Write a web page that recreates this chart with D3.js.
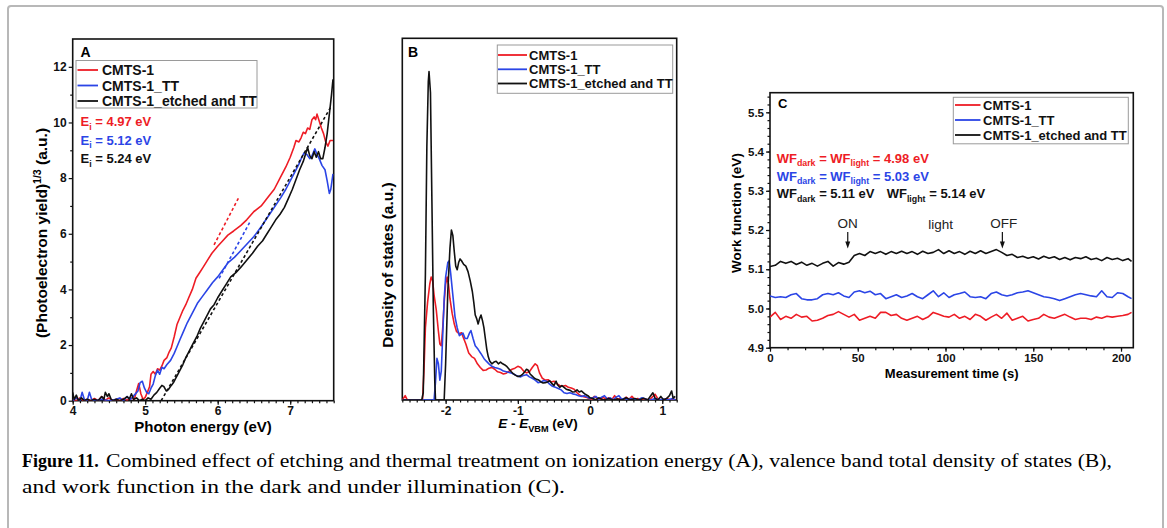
<!DOCTYPE html>
<html>
<head>
<meta charset="utf-8">
<script src="https://cdn.jsdelivr.net/npm/d3@7"></script>
<style>
  body { margin: 0; background: #fff; }
  svg text { font-family: "Liberation Sans", Arial, sans-serif; }
</style>
</head>
<body>
<svg id="fig" width="1167" height="528"></svg>
<script>
// ---------- data ----------
const seriesNames = ["CMTS-1", "CMTS-1_TT", "CMTS-1_etched and TT"];
const seriesColors = ["#ee1c25", "#2b45e6", "#111111"];

// panel A: photon energy (eV) vs (photoelectron yield)^1/3
const aRed = [[4.00,0.05],[4.05,0],[4.10,0.1],[4.15,0],[4.20,0.05],[4.25,0],[4.30,0.08],[4.35,0],[4.40,0.15],[4.45,0.02],[4.50,0.1],[4.55,0],[4.60,0.05],[4.65,0],[4.70,0.08],[4.75,0.02],[4.80,0.1],[4.85,0.05],[4.88,0.35],[4.91,0.62],[4.94,0.25],[4.97,0.05],[5.00,0.12],[5.03,0.3],[5.06,0.5],[5.08,0.95],[5.11,1.05],[5.14,0.95],[5.17,1.15],[5.20,1.1],[5.23,1.25],[5.26,1.45],[5.30,1.55],[5.33,1.75],[5.36,1.9],[5.40,2.3],[5.44,2.75],[5.48,3.0],[5.52,3.25],[5.56,3.45],[5.60,3.7],[5.65,4.0],[5.70,4.4],[5.75,4.6],[5.80,4.8],[5.86,5.05],[5.92,5.3],[6.00,5.55],[6.07,5.75],[6.14,5.95],[6.22,6.1],[6.32,6.3],[6.40,6.5],[6.50,6.8],[6.60,7.0],[6.69,7.3],[6.78,7.6],[6.87,8.05],[6.94,8.4],[7.00,8.75],[7.05,9.1],[7.08,9.35],[7.12,9.3],[7.15,9.45],[7.18,9.65],[7.21,9.6],[7.24,9.8],[7.27,9.75],[7.30,10.1],[7.33,10.2],[7.35,10.1],[7.37,10.3],[7.40,10.05],[7.43,9.8],[7.46,9.6],[7.49,9.3],[7.52,9.15],[7.55,9.35],[7.59,9.35]];
const aBlue = [[4.00,0],[4.05,0.1],[4.10,0],[4.13,0.3],[4.16,0.05],[4.20,0],[4.23,0.3],[4.26,0.05],[4.30,0],[4.40,0.05],[4.50,0],[4.60,0.05],[4.65,0.1],[4.70,0],[4.75,0.15],[4.80,0.05],[4.85,0.2],[4.90,0.35],[4.93,0.65],[4.96,0.7],[4.99,0.45],[5.02,0.3],[5.05,0.25],[5.08,0.45],[5.11,0.6],[5.14,0.9],[5.17,1.1],[5.20,0.95],[5.23,1.2],[5.26,1.15],[5.30,1.3],[5.35,1.45],[5.40,1.7],[5.44,1.95],[5.48,2.2],[5.53,2.5],[5.58,2.8],[5.65,3.15],[5.72,3.5],[5.79,3.75],[5.86,4.0],[5.93,4.25],[6.00,4.45],[6.07,4.7],[6.14,4.95],[6.23,5.15],[6.32,5.4],[6.41,5.65],[6.50,5.9],[6.60,6.25],[6.69,6.6],[6.78,6.95],[6.87,7.3],[6.94,7.6],[7.00,7.9],[7.06,8.2],[7.12,8.5],[7.16,8.75],[7.19,8.9],[7.23,8.85],[7.27,8.7],[7.30,8.8],[7.34,9.05],[7.37,8.85],[7.40,8.7],[7.44,8.45],[7.48,8.3],[7.51,7.9],[7.54,7.45],[7.56,7.6],[7.59,8.15]];
const aBlack = [[4.00,0.3],[4.02,0.05],[4.05,0.2],[4.08,0],[4.12,0.1],[4.16,0],[4.20,0.05],[4.25,0],[4.30,0.05],[4.35,0],[4.40,0.15],[4.43,0.05],[4.45,0.3],[4.48,0.15],[4.50,0.25],[4.53,0.05],[4.56,0],[4.60,0.05],[4.65,0],[4.70,0.05],[4.75,0.15],[4.78,0.05],[4.81,0.25],[4.84,0.05],[4.88,0.1],[4.92,0],[4.96,0.05],[5.00,0],[5.04,0.1],[5.08,0.05],[5.12,0.2],[5.16,0.3],[5.20,0.45],[5.23,0.55],[5.26,0.5],[5.29,0.35],[5.32,0.4],[5.36,0.55],[5.39,0.65],[5.42,0.8],[5.45,0.95],[5.48,1.1],[5.52,1.3],[5.56,1.55],[5.60,1.75],[5.64,1.95],[5.68,2.15],[5.72,2.35],[5.76,2.6],[5.80,2.8],[5.85,3.05],[5.90,3.3],[5.95,3.45],[6.00,3.7],[6.06,3.95],[6.12,4.2],[6.18,4.45],[6.25,4.6],[6.32,4.8],[6.40,5.05],[6.48,5.3],[6.55,5.55],[6.62,5.75],[6.68,6.0],[6.74,6.25],[6.80,6.5],[6.86,6.7],[6.92,6.95],[6.98,7.3],[7.03,7.6],[7.08,7.95],[7.13,8.3],[7.18,8.6],[7.21,8.85],[7.24,9.1],[7.27,8.8],[7.30,8.7],[7.33,8.95],[7.36,8.75],[7.39,8.95],[7.42,8.7],[7.45,8.7],[7.48,9.1],[7.51,9.6],[7.54,10.3],[7.57,11.0],[7.59,11.55]];
// linear fits (dashed)
const aFitRed = [[5.95,5.6],[6.29,7.3]];
const aFitBlue = [[6.02,4.4],[6.44,6.4]];
const aFitBlack = [[5.22,0],[7.57,10.6]];
const aNotes = ["4.97", "5.12", "5.24"];

// panel B: E - E_VBM (eV) vs density of states (a.u.)
const bRed = [[-2.60,0],[-2.56,0.012],[-2.53,0],[-2.45,0],[-2.40,0],[-2.35,0],[-2.32,0],[-2.30,0.08],[-2.28,0.2],[-2.25,0.27],[-2.22,0.32],[-2.20,0.34],[-2.18,0.33],[-2.16,0.29],[-2.13,0.25],[-2.10,0.19],[-2.08,0.155],[-2.06,0.15],[-2.04,0.2],[-2.02,0.27],[-2.00,0.32],[-1.98,0.34],[-1.96,0.32],[-1.94,0.28],[-1.91,0.24],[-1.88,0.21],[-1.85,0.19],[-1.81,0.183],[-1.78,0.186],[-1.75,0.17],[-1.72,0.155],[-1.68,0.13],[-1.64,0.12],[-1.60,0.115],[-1.56,0.1],[-1.52,0.09],[-1.48,0.082],[-1.44,0.083],[-1.40,0.088],[-1.36,0.09],[-1.32,0.085],[-1.28,0.078],[-1.24,0.076],[-1.20,0.072],[-1.16,0.074],[-1.12,0.08],[-1.08,0.085],[-1.04,0.088],[-1.00,0.093],[-0.96,0.09],[-0.92,0.08],[-0.88,0.075],[-0.84,0.078],[-0.80,0.09],[-0.76,0.1],[-0.73,0.095],[-0.70,0.075],[-0.66,0.06],[-0.62,0.055],[-0.58,0.056],[-0.54,0.05],[-0.50,0.052],[-0.46,0.045],[-0.42,0.04],[-0.38,0.038],[-0.34,0.04],[-0.30,0.035],[-0.26,0.033],[-0.22,0.03],[-0.18,0.02],[-0.14,0.013],[-0.10,0.01],[-0.06,0.008],[-0.02,0.005],[0.02,0.002],[0.06,0.01],[0.10,0.004],[0.14,0],[0.18,0.008],[0.22,0.002],[0.26,0.006],[0.30,0],[0.34,0.012],[0.38,0.002],[0.42,0.004],[0.46,0],[0.50,0.008],[0.54,0.002],[0.58,0.01],[0.62,0.001],[0.66,0.004],[0.70,0],[0.76,0.003],[0.82,0],[0.86,0.008],[0.90,0.016],[0.94,0.003],[1.00,0],[1.06,0.004],[1.12,0],[1.18,0.002]];
const bBlue = [[-2.60,0],[-2.40,0],[-2.20,0],[-2.16,0],[-2.14,0.05],[-2.12,0.115],[-2.10,0.1],[-2.08,0.055],[-2.06,0.08],[-2.04,0.18],[-2.02,0.28],[-2.00,0.34],[-1.97,0.38],[-1.95,0.385],[-1.93,0.35],[-1.90,0.29],[-1.87,0.23],[-1.84,0.2],[-1.81,0.178],[-1.78,0.182],[-1.76,0.185],[-1.73,0.17],[-1.70,0.17],[-1.67,0.185],[-1.65,0.192],[-1.62,0.17],[-1.59,0.15],[-1.55,0.14],[-1.51,0.128],[-1.47,0.115],[-1.44,0.108],[-1.40,0.1],[-1.36,0.093],[-1.32,0.09],[-1.28,0.088],[-1.24,0.085],[-1.20,0.08],[-1.16,0.078],[-1.12,0.076],[-1.08,0.074],[-1.04,0.07],[-1.00,0.066],[-0.96,0.064],[-0.92,0.068],[-0.88,0.07],[-0.84,0.064],[-0.80,0.06],[-0.76,0.055],[-0.72,0.048],[-0.68,0.05],[-0.64,0.054],[-0.60,0.052],[-0.56,0.044],[-0.52,0.038],[-0.48,0.035],[-0.44,0.032],[-0.40,0.028],[-0.36,0.02],[-0.32,0.018],[-0.28,0.02],[-0.24,0.017],[-0.20,0.015],[-0.16,0.012],[-0.12,0.01],[-0.08,0.012],[-0.04,0.008],[0.00,0.004],[0.04,0.006],[0.08,0.01],[0.12,0.002],[0.16,0.008],[0.20,0.012],[0.24,0.003],[0.28,0.006],[0.32,0],[0.36,0.008],[0.40,0.012],[0.44,0.002],[0.48,0.005],[0.52,0],[0.56,0.004],[0.60,0.002],[0.66,0],[0.72,0.006],[0.78,0.002],[0.84,0],[0.90,0.004],[0.96,0],[1.02,0.003],[1.08,0],[1.14,0.004],[1.18,0]];
const bBlack = [[-2.60,0],[-2.45,0],[-2.33,0],[-2.31,0.02],[-2.28,0.35],[-2.26,0.7],[-2.24,0.88],[-2.23,0.908],[-2.21,0.85],[-2.19,0.55],[-2.17,0.25],[-2.15,0.05],[-2.14,0],[-2.02,0],[-2.00,0.1],[-1.97,0.3],[-1.94,0.42],[-1.92,0.47],[-1.90,0.455],[-1.88,0.41],[-1.86,0.37],[-1.84,0.36],[-1.82,0.38],[-1.80,0.39],[-1.78,0.385],[-1.75,0.375],[-1.72,0.37],[-1.69,0.355],[-1.66,0.33],[-1.63,0.3],[-1.61,0.27],[-1.59,0.235],[-1.57,0.225],[-1.55,0.21],[-1.53,0.225],[-1.51,0.235],[-1.49,0.22],[-1.47,0.2],[-1.45,0.17],[-1.43,0.14],[-1.41,0.12],[-1.39,0.108],[-1.36,0.1],[-1.33,0.105],[-1.30,0.107],[-1.27,0.1],[-1.24,0.105],[-1.21,0.1],[-1.18,0.097],[-1.15,0.092],[-1.12,0.085],[-1.09,0.078],[-1.06,0.072],[-1.03,0.068],[-1.00,0.065],[-0.97,0.066],[-0.94,0.07],[-0.91,0.077],[-0.88,0.085],[-0.86,0.083],[-0.83,0.072],[-0.80,0.066],[-0.77,0.06],[-0.74,0.057],[-0.71,0.055],[-0.68,0.05],[-0.65,0.047],[-0.62,0.048],[-0.59,0.05],[-0.56,0.053],[-0.53,0.046],[-0.50,0.04],[-0.47,0.052],[-0.45,0.042],[-0.42,0.035],[-0.39,0.04],[-0.36,0.035],[-0.33,0.03],[-0.30,0.028],[-0.27,0.026],[-0.24,0.022],[-0.21,0.023],[-0.18,0.028],[-0.15,0.022],[-0.12,0.025],[-0.09,0.02],[-0.06,0.015],[-0.03,0.012],[0.00,0.006],[0.04,0.004],[0.08,0],[0.12,0.006],[0.16,0.002],[0.20,0],[0.26,0.004],[0.32,0],[0.38,0.003],[0.44,0],[0.50,0.006],[0.56,0],[0.62,0.004],[0.68,0],[0.74,0.005],[0.80,0],[0.84,0.012],[0.87,0.02],[0.90,0.005],[0.94,0],[0.98,0.01],[1.02,0],[1.06,0.004],[1.10,0.012],[1.13,0.025],[1.15,0.005],[1.18,0.01]];

// panel C: measurement time (s) vs work function (eV)
const cTime = [0,3,6,9,12,15,18,21,24,27,30,33,36,39,42,45,48,51,54,57,60,63,66,69,72,75,78,81,84,87,90,93,96,99,102,105,108,111,114,117,120,123,126,129,132,135,138,141,144,147,150,153,156,159,162,165,168,171,174,177,180,183,186,189,192,195,198,201,204,206];
const cRed = [4.978,4.99,4.972,4.98,4.975,4.985,4.978,4.98,4.968,4.97,4.975,4.982,4.985,4.992,4.985,4.978,4.985,4.97,4.975,4.98,4.975,4.99,4.99,4.982,4.985,4.975,4.97,4.975,4.98,4.972,4.978,4.99,4.985,4.98,4.978,4.985,4.975,4.98,4.972,4.985,4.98,4.97,4.978,4.985,4.975,4.988,4.97,4.975,4.98,4.968,4.972,4.975,4.985,4.978,4.975,4.98,4.985,4.978,4.972,4.975,4.975,4.972,4.978,4.975,4.98,4.978,4.98,4.982,4.985,4.99];
const cBlue = [5.032,5.028,5.03,5.028,5.035,5.038,5.025,5.022,5.022,5.025,5.035,5.038,5.035,5.04,5.032,5.028,5.042,5.045,5.04,5.044,5.035,5.038,5.025,5.03,5.035,5.028,5.032,5.038,5.03,5.025,5.035,5.045,5.03,5.04,5.028,5.035,5.038,5.042,5.03,5.028,5.03,5.025,5.038,5.042,5.035,5.032,5.035,5.04,5.042,5.045,5.04,5.035,5.03,5.028,5.025,5.02,5.025,5.03,5.035,5.038,5.035,5.032,5.03,5.045,5.03,5.028,5.04,5.038,5.03,5.025];
const cBlack = [5.107,5.11,5.12,5.115,5.12,5.112,5.118,5.11,5.115,5.108,5.115,5.12,5.108,5.117,5.113,5.118,5.135,5.14,5.135,5.145,5.14,5.145,5.138,5.145,5.14,5.146,5.14,5.145,5.138,5.146,5.14,5.143,5.15,5.14,5.147,5.14,5.145,5.138,5.146,5.14,5.147,5.14,5.145,5.15,5.143,5.135,5.138,5.13,5.133,5.128,5.132,5.126,5.133,5.128,5.132,5.125,5.13,5.124,5.13,5.127,5.132,5.125,5.128,5.122,5.13,5.125,5.128,5.122,5.127,5.12];
const cNotes = ["4.98", "5.03", "5.11", "5.14"];
const lightOn = 44.3, lightOff = 132.4;

// ---------- drawing ----------
const svg = d3.select("#fig");

svg.append("rect")
  .attr("x", 8).attr("y", 6).attr("width", 1155).attr("height", 540).attr("rx", 3)
  .attr("fill", "#fff").attr("stroke", "#b8b8b8").attr("stroke-width", 2);

const line = (x, y) => d3.line().x(d => x(d[0])).y(d => y(d[1]));

// draws frame, ticks and clip for a panel
function panel(id, x, y, opt) {
  const g = svg.append("g").attr("id", id);
  const [x0, x1] = x.range();
  const [y0, y1] = y.range();

  g.append("clipPath").attr("id", "clip-" + id)
    .append("rect").attr("x", x0).attr("y", y1).attr("width", x1 - x0).attr("height", y0 - y1);

  const fmt = opt.xf || (d => String(d));
  const xAx = g.append("g").attr("transform", `translate(0,${y0})`)
    .call(d3.axisBottom(x).tickValues(opt.xTicks).tickSize(4).tickPadding(2).tickFormat(fmt));
  g.append("g").attr("transform", `translate(0,${y0})`)
    .call(d3.axisBottom(x).tickValues(opt.xMinor).tickSize(2.5).tickFormat(""));
  xAx.selectAll("text").attr("font-size", opt.tickSize).attr("font-weight", "bold").attr("fill", "#111");

  if (opt.yTicks) {
    const yAx = g.append("g").attr("transform", `translate(${x0},0)`)
      .call(d3.axisLeft(y).tickValues(opt.yTicks).tickSize(4).tickPadding(2).tickFormat(opt.yf || (d => String(d))));
    yAx.selectAll("text").attr("font-size", opt.tickSize).attr("font-weight", "bold").attr("fill", "#111");
    g.append("g").attr("transform", `translate(${x0},0)`)
      .call(d3.axisLeft(y).tickValues(opt.yMinor).tickSize(2.5).tickFormat(""));
  }
  g.selectAll(".domain").remove();
  g.selectAll(".tick line").attr("stroke", "#111").attr("stroke-width", 1.2);

  g.append("rect").attr("x", x0).attr("y", y1).attr("width", x1 - x0).attr("height", y0 - y1)
    .attr("fill", "none").attr("stroke", "#111").attr("stroke-width", 1.6);
  return g;
}

function drawLines(g, id, x, y, list, dashed) {
  const gen = line(x, y);
  const lg = g.append("g").attr("clip-path", `url(#clip-${id})`);
  list.forEach(([data, color]) => {
    lg.append("path").datum(data).attr("d", gen)
      .attr("fill", "none").attr("stroke", color).attr("stroke-width", 1.6)
      .attr("stroke-linejoin", "round")
      .attr("stroke-dasharray", dashed ? "3,2.5" : null);
  });
}

function legend(g, box, rows, lineX, textX, fs) {
  g.append("rect").attr("x", box[0]).attr("y", box[1]).attr("width", box[2]).attr("height", box[3])
    .attr("fill", "#fff").attr("stroke", "#9a9a9a").attr("stroke-width", 1);
  seriesNames.forEach((name, i) => {
    g.append("line").attr("x1", lineX[0]).attr("x2", lineX[1]).attr("y1", rows[i]).attr("y2", rows[i])
      .attr("stroke", seriesColors[i]).attr("stroke-width", 1.8);
    g.append("text").attr("x", textX).attr("y", rows[i]).attr("dy", "0.36em")
      .attr("font-size", fs).attr("font-weight", "bold").attr("fill", "#111").text(name);
  });
}

// text made of parts: [string, "sub"|"sup"|null, italic]
function rich(sel, parts) {
  let shift = 0;
  parts.forEach(([t, m, it]) => {
    const target = m === "sub" ? 3.5 : m === "sup" ? -6 : 0;
    sel.append("tspan").attr("dy", target - shift)
      .attr("font-size", m ? "0.68em" : null)
      .attr("font-style", it ? "italic" : null).text(t);
    shift = target;
  });
  return sel;
}

// ---------- panel A ----------
const xA = d3.scaleLinear().domain([4, 7.6]).range([72.7, 333.7]);
const yA = d3.scaleLinear().domain([0, 13]).range([400.7, 39]);
const gA = panel("A", xA, yA, {
  xTicks: [4, 5, 6, 7], xMinor: d3.range(4, 7.61, 0.1),
  yTicks: [0, 2, 4, 6, 8, 10, 12], yMinor: d3.range(1, 13, 2),
  tickSize: 12
});
drawLines(gA, "A", xA, yA, [[aRed, seriesColors[0]], [aBlue, seriesColors[1]], [aBlack, seriesColors[2]]]);
drawLines(gA, "A", xA, yA, [[aFitRed, seriesColors[0]], [aFitBlue, seriesColors[1]], [aFitBlack, seriesColors[2]]], true);
gA.append("text").attr("x", 80.5).attr("y", 56.5).attr("font-size", 14).attr("font-weight", "bold").text("A");
legend(gA, [76, 60.5, 181, 47.5], [70, 85.5, 101], [77.5, 98], 102, 14);
aNotes.forEach((v, i) => {
  rich(gA.append("text").attr("x", 80.5).attr("y", 126 + i * 18.5).attr("font-size", 13)
    .attr("font-weight", "bold").attr("fill", seriesColors[i]),
    [["E"], ["i", "sub"], [" = " + v + " eV"]]);
});
gA.append("text").attr("x", 203).attr("y", 432).attr("text-anchor", "middle")
  .attr("font-size", 15).attr("font-weight", "bold").text("Photon energy (eV)");
rich(gA.append("text").attr("transform", "translate(47,233) rotate(-90)").attr("text-anchor", "middle")
  .attr("font-size", 15.5).attr("font-weight", "bold"),
  [["(Photoelectron yield)"], ["1/3", "sup"], [" (a.u.)"]]);

// ---------- panel B ----------
const xB = d3.scaleLinear().domain([-2.6, 1.2]).range([402.3, 676.7]);
const yB = d3.scaleLinear().domain([0, 1]).range([400, 38.3]);
const gB = panel("B", xB, yB, {
  xTicks: [-2, -1, 0, 1], xMinor: d3.range(-2.6, 1.21, 0.1),
  tickSize: 12
});
drawLines(gB, "B", xB, yB, [[bRed, seriesColors[0]], [bBlue, seriesColors[1]], [bBlack, seriesColors[2]]]);
gB.append("text").attr("x", 408).attr("y", 56.5).attr("font-size", 14).attr("font-weight", "bold").text("B");
legend(gB, [497.3, 45, 175.4, 48.3], [55, 69.3, 83.5], [498, 527], 529, 13);
rich(gB.append("text").attr("x", 538).attr("y", 428).attr("text-anchor", "middle")
  .attr("font-size", 13.5).attr("font-weight", "bold"),
  [["E", null, true], [" - "], ["E", null, true], ["VBM", "sub"], [" (eV)"]]);
gB.append("text").attr("transform", "translate(393,265) rotate(-90)").attr("text-anchor", "middle")
  .attr("font-size", 15.5).attr("font-weight", "bold").text("Density of states (a.u.)");

// ---------- panel C ----------
const xC = d3.scaleLinear().domain([0, 207]).range([770, 1133.3]);
const yC = d3.scaleLinear().domain([4.9, 5.55]).range([347.7, 92.7]);
const gC = panel("C", xC, yC, {
  xTicks: [0, 50, 100, 150, 200], xMinor: d3.range(0, 207, 10),
  yTicks: [4.9, 5.0, 5.1, 5.2, 5.3, 5.4, 5.5], yMinor: d3.range(4.9, 5.55, 0.02),
  yf: d3.format(".1f"), tickSize: 11.5
});
const cData = [cRed, cBlue, cBlack].map(s => s.map((v, i) => [cTime[i], v]));
drawLines(gC, "C", xC, yC, cData.map((d, i) => [d, seriesColors[i]]));
gC.append("text").attr("x", 778).attr("y", 108).attr("font-size", 13).attr("font-weight", "bold").text("C");
legend(gC, [953.3, 97.3, 175, 46.5], [105, 120, 135], [955, 980.5], 983, 13);

const wfText = (x, yv, color, parts) =>
  rich(gC.append("text").attr("x", xC(x)).attr("y", yC(yv)).attr("font-size", 13)
    .attr("font-weight", "bold").attr("fill", color), parts);
wfText(3.8, 5.372, seriesColors[0], [["WF"], ["dark", "sub"], [" = WF"], ["light", "sub"], [" = " + cNotes[0] + " eV"]]);
wfText(3.8, 5.325, seriesColors[1], [["WF"], ["dark", "sub"], [" = WF"], ["light", "sub"], [" = " + cNotes[1] + " eV"]]);
wfText(3.8, 5.281, seriesColors[2], [["WF"], ["dark", "sub"], [" = " + cNotes[2] + " eV"]]);
wfText(66.5, 5.281, seriesColors[2], [["WF"], ["light", "sub"], [" = " + cNotes[3] + " eV"]]);

[["ON", lightOn], ["OFF", lightOff + 0.8]].forEach(([t, v]) => {
  gC.append("text").attr("x", xC(v)).attr("y", yC(5.218)).attr("dy", "0.36em").attr("text-anchor", "middle")
    .attr("font-size", 13.5).attr("fill", "#222").text(t);
});
gC.append("text").attr("x", xC(97.2)).attr("y", yC(5.215)).attr("dy", "0.36em").attr("text-anchor", "middle")
  .attr("font-size", 13.5).attr("fill", "#222").text("light");
[lightOn, lightOff].forEach(v => {
  const ax = xC(v), top = yC(5.195), tip = yC(5.153);
  gC.append("line").attr("x1", ax).attr("x2", ax).attr("y1", top).attr("y2", tip - 4)
    .attr("stroke", "#111").attr("stroke-width", 1.2);
  gC.append("path").attr("d", `M${ax - 2.5},${tip - 7}L${ax + 2.5},${tip - 7}L${ax},${tip}Z`).attr("fill", "#111");
});
gC.append("text").attr("x", 951.7).attr("y", 377.5).attr("text-anchor", "middle")
  .attr("font-size", 13).attr("font-weight", "bold").text("Measurement time (s)");
gC.append("text").attr("transform", "translate(740.5,213) rotate(-90)").attr("text-anchor", "middle")
  .attr("font-size", 13.5).attr("font-weight", "bold").text("Work function (eV)");

// ---------- caption ----------
const cap = svg.append("g");
cap.append("text").attr("x", 22).attr("y", 467).attr("font-size", 18).attr("font-weight", "bold")
  .style("font-family", "'Liberation Serif', serif").text("Figure 11.");
cap.append("text").attr("x", 106).attr("y", 467).attr("font-size", 18)
  .attr("textLength", 1006).attr("lengthAdjust", "spacingAndGlyphs")
  .style("font-family", "'Liberation Serif', serif")
  .text("Combined effect of etching and thermal treatment on ionization energy (A), valence band total density of states (B),");
cap.append("text").attr("x", 22).attr("y", 493).attr("font-size", 18)
  .attr("textLength", 543).attr("lengthAdjust", "spacingAndGlyphs")
  .style("font-family", "'Liberation Serif', serif")
  .text("and work function in the dark and under illumination (C).");
</script>
</body>
</html>
